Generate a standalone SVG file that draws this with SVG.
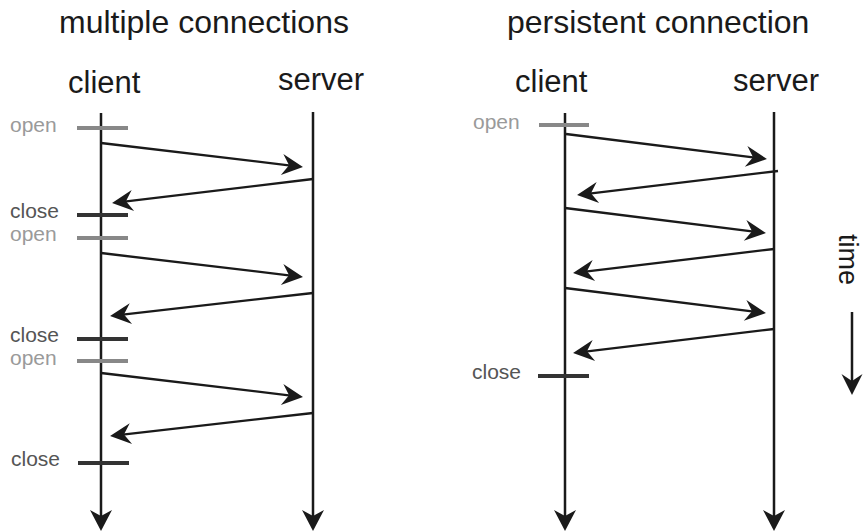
<svg xmlns="http://www.w3.org/2000/svg" width="864" height="531" viewBox="0 0 864 531">
<style>
  text { font-family: "Liberation Sans", Arial, sans-serif; }
  .title { font-size: 32px; fill: #1a1a1a; }
  .actor { font-size: 31px; fill: #1a1a1a; }
  .open-t { font-size: 21px; fill: #9a9a9a; }
  .close-t { font-size: 21px; fill: #555; }
  .life { stroke: #1a1a1a; stroke-width: 2.5; fill: none; }
  .msg { stroke: #1a1a1a; stroke-width: 2.3; fill: none; }
  .tick-open { stroke: #888; stroke-width: 4; }
  .tick-close { stroke: #333; stroke-width: 4; }
</style>
<defs>
  <marker id="ah" viewBox="-24 -12 26 24" refX="-6" refY="0" markerWidth="26" markerHeight="24" markerUnits="userSpaceOnUse" orient="auto">
    <path d="M0,0 L-21,-10.5 L-14,0 L-21,10.5 Z" fill="#1a1a1a"/>
  </marker>
  <marker id="ahb" viewBox="-24 -12 26 24" refX="-6" refY="0" markerWidth="26" markerHeight="24" markerUnits="userSpaceOnUse" orient="auto">
    <path d="M0,0 L-21,-11 L-15,0 L-21,11 Z" fill="#1a1a1a"/>
  </marker>
</defs>

<g id="title-multiple"><text class="title" x="59" y="33">multiple connections</text></g>
<g id="title-persistent"><text class="title" x="507" y="33">persistent connection</text></g>

<g id="client-left"><text class="actor" x="68" y="93">client</text></g>
<g id="server-left"><text class="actor" x="278" y="90">server</text></g>
<g id="client-right"><text class="actor" x="515" y="92">client</text></g>
<g id="server-right"><text class="actor" x="733" y="91">server</text></g>

<g id="lifelines">
  <line class="life" x1="101" y1="113" x2="101" y2="525" marker-end="url(#ahb)"/>
  <line class="life" x1="313" y1="112" x2="313" y2="525" marker-end="url(#ahb)"/>
  <line class="life" x1="565" y1="113" x2="565" y2="525" marker-end="url(#ahb)"/>
  <line class="life" x1="774" y1="112" x2="774" y2="525" marker-end="url(#ahb)"/>
</g>

<g id="ticks-left">
  <line class="tick-open" x1="77" y1="128" x2="128" y2="128"/>
  <line class="tick-close" x1="77" y1="215" x2="128" y2="215"/>
  <line class="tick-open" x1="77" y1="238" x2="128" y2="238"/>
  <line class="tick-close" x1="77" y1="339" x2="128" y2="339"/>
  <line class="tick-open" x1="77" y1="361" x2="128" y2="361"/>
  <line class="tick-close" x1="78" y1="463" x2="129" y2="463"/>
</g>
<g id="labels-left">
  <text class="open-t" x="10" y="132">open</text>
  <text class="close-t" x="10" y="218">close</text>
  <text class="open-t" x="10" y="241">open</text>
  <text class="close-t" x="10" y="342">close</text>
  <text class="open-t" x="10" y="365">open</text>
  <text class="close-t" x="11" y="466">close</text>
</g>

<g id="ticks-right">
  <line class="tick-open" x1="539" y1="125" x2="589" y2="125"/>
  <line class="tick-close" x1="538" y1="376" x2="589" y2="376"/>
</g>
<g id="labels-right">
  <text class="open-t" x="473" y="129">open</text>
  <text class="close-t" x="472" y="379">close</text>
</g>

<g id="connectors">
  <line class="msg" x1="101" y1="143" x2="297" y2="166.3" marker-end="url(#ah)"/>
  <line class="msg" x1="313" y1="179" x2="118" y2="202.3" marker-end="url(#ah)"/>
  <line class="msg" x1="101" y1="253" x2="297" y2="276.3" marker-end="url(#ah)"/>
  <line class="msg" x1="313" y1="293" x2="116" y2="315.3" marker-end="url(#ah)"/>
  <line class="msg" x1="101" y1="373" x2="297" y2="396.3" marker-end="url(#ah)"/>
  <line class="msg" x1="313" y1="413" x2="116" y2="435.3" marker-end="url(#ah)"/>

  <line class="msg" x1="566" y1="134" x2="761" y2="158.3" marker-end="url(#ah)"/>
  <line class="msg" x1="778" y1="171" x2="583" y2="194.3" marker-end="url(#ah)"/>
  <line class="msg" x1="565" y1="208" x2="760" y2="232.3" marker-end="url(#ah)"/>
  <line class="msg" x1="774" y1="249" x2="579" y2="272.3" marker-end="url(#ah)"/>
  <line class="msg" x1="565" y1="288" x2="760" y2="312.3" marker-end="url(#ah)"/>
  <line class="msg" x1="774" y1="329" x2="579" y2="352.3" marker-end="url(#ah)"/>
</g>

<g id="time-axis">
  <text class="actor" transform="translate(839,234) rotate(90)" x="0" y="0" style="font-size:27px">time</text>
  <line class="life" x1="852" y1="312" x2="852" y2="389" marker-end="url(#ah)"/>
</g>
</svg>
